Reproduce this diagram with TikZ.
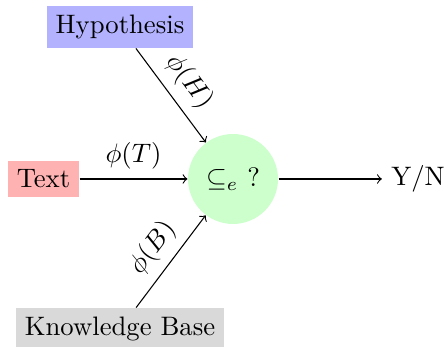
\documentclass[tikz,border=0pt]{standalone}
\begin{document}
\begin{tikzpicture}[x=0.3745pt,y=-0.3745pt,
  box/.style={inner sep=3.33pt},
  hypbox/.style={box,fill=blue!30},
  txtbox/.style={box,fill=red!30},
  kbbox/.style={box,fill=gray!30},
  testnode/.style={circle,fill=green!20,minimum size=33.7pt,inner sep=0pt},
  conn/.style={->}]
\useasboundingbox (0,0) rectangle (446,347);
\node[hypbox] (H) at (120,27) {Hypothesis};
\node[txtbox] (T) at (43.5,179) {Text};
\node[testnode] (C) at (233,179) {$\subseteq_e$ ?};
\node[box] (Y) at (418,179) {Y/N};
\node[kbbox] (K) at (120,329) {Knowledge Base};
\draw[conn] (H) -- node[midway,above,sloped] {$\phi(H)$} (C);
\draw[conn] (T) -- node[midway,above] {$\phi(T)$} (C);
\draw[conn] (K) -- node[midway,above,sloped] {$\phi(B)$} (C);
\draw[conn] (C) -- (Y);
\end{tikzpicture}
\end{document}
